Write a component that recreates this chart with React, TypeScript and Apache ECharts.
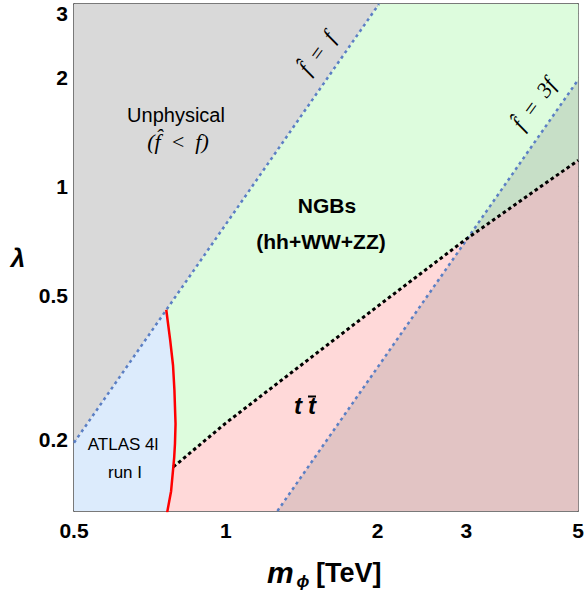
import React, { useEffect, useRef } from "react";
import * as echarts from "echarts";

// axis ranges (m_phi in TeV, lambda)
const X_MIN = 0.5;
const X_MAX = 5;
const Y_MIN = 0.127;
const Y_MAX = 3.18;

// tick values
const xTickLabels = [0.5, 1, 2, 3, 5];
const xMajorTicks = [1];
const xMinorTicks = [0.6, 0.7, 0.8, 0.9, 2, 3, 4];
const yTickLabels = [0.2, 0.5, 1, 2, 3];
const yMajorTicks = [0.2, 0.5, 1, 2];
const yMinorTicks = [0.3, 0.4, 0.6, 0.7, 0.8, 0.9, 3];

// boundary f-hat = f
const lineFhatF: number[][] = [[0.5, 0.196], [2.013, 3.18]];
// boundary f-hat = 3f
const lineFhat3F: number[][] = [[1.266, 0.127], [5, 1.965]];
// t tbar boundary (black dashed)
const ttbarLine: number[][] = [[0.787, 0.168], [1, 0.222], [2, 0.466], [3, 0.715], [5, 1.178]];
// ATLAS 4l run I exclusion curve (red), top to bottom
const atlasCurve: number[][] = [
  [0.762, 0.456], [0.776, 0.375], [0.786, 0.32], [0.791, 0.273], [0.795, 0.221],
  [0.793, 0.195], [0.79, 0.178], [0.779, 0.144], [0.765, 0.1257],
];

const COL_GRAY = "#d9d9d9";
const COL_BLUE = "#dcebfc";
const COL_GREEN = "#ddfcdd";
const COL_PINK = "#ffd9d9";
const COL_OVER = "rgba(118,118,118,0.21)";

const L = (v: number) => Math.log10(v);
const fmt = (v: number) => String(Number(Math.pow(10, v).toPrecision(3)));

export default function App() {
  const ref = useRef<HTMLDivElement>(null);
  useEffect(() => {
    document.body.style.margin = "0";
    if (!ref.current) return;
    const chart = echarts.init(ref.current, undefined, { renderer: "svg" });

    const splitLam = ttbarLine[0][1];
    const atlasUpper = atlasCurve.filter((p) => p[1] > splitLam);
    const atlasLower = atlasCurve.filter((p) => p[1] < splitLam);

    const grayPoly = [[X_MIN, lineFhatF[0][1]], [X_MIN, Y_MAX], [lineFhatF[1][0], Y_MAX]];
    const bluePoly = [[X_MIN, Y_MIN], [X_MIN, lineFhatF[0][1]], ...atlasCurve];
    const greenPoly = [
      atlasCurve[0],
      [lineFhatF[1][0], Y_MAX],
      [X_MAX, Y_MAX],
      ...ttbarLine.slice().reverse(),
      ...atlasUpper.slice().reverse(),
    ];
    const pinkPoly = [
      ...ttbarLine,
      [X_MAX, 0.1257],
      ...atlasLower.slice().reverse(),
    ];
    const overPoly = [lineFhat3F[0], lineFhat3F[1], [X_MAX, 0.1257]];

    const poly = (pts: number[][], color: string) => ({
      type: "custom",
      coordinateSystem: "cartesian2d",
      xAxisIndex: 0,
      yAxisIndex: 0,
      clip: true,
      silent: true,
      data: pts.map((p) => [L(p[0]), L(p[1])]),
      renderItem: (params: any, api: any) => {
        if (params.dataIndex !== 0) return null;
        const points = pts.map((p) => api.coord([L(p[0]), L(p[1])]));
        return { type: "polygon", shape: { points }, style: { fill: color } };
      },
    });

    const line = (pts: number[][], color: string, width: number, type: any) => ({
      type: "line",
      xAxisIndex: 0,
      yAxisIndex: 0,
      showSymbol: false,
      symbol: "none",
      silent: true,
      clip: true,
      data: pts.map((p) => [L(p[0]), L(p[1])]),
      lineStyle: { color, width, type, cap: "butt" },
    });

    const axisLineStyle = { color: "#4d4d4d", width: 1.5 };
    const labelStyle = {
      fontFamily: "Liberation Sans",
      fontWeight: "bold",
      fontSize: 21,
      color: "#000",
    };
    const mkX = (pos: string, ticks: number[], len: number, showLine: boolean, labels: boolean) => ({
      type: "value",
      position: pos,
      min: L(X_MIN),
      max: L(X_MAX),
      splitLine: { show: false },
      axisLine: { show: showLine, onZero: false, lineStyle: axisLineStyle },
      axisTick: {
        show: true,
        inside: true,
        length: len,
        customValues: ticks.map(L),
        lineStyle: { color: "#333", width: 1.3 },
      },
      axisLabel: labels
        ? { show: true, customValues: xTickLabels.map(L), formatter: fmt, margin: 9, ...labelStyle }
        : { show: false },
    });
    const mkY = (pos: string, ticks: number[], len: number, showLine: boolean, labels: boolean) => ({
      type: "value",
      position: pos,
      min: L(Y_MIN),
      max: L(Y_MAX),
      splitLine: { show: false },
      axisLine: { show: showLine, onZero: false, lineStyle: axisLineStyle },
      axisTick: {
        show: true,
        inside: true,
        length: len,
        customValues: ticks.map(L),
        lineStyle: { color: "#333", width: 1.3 },
      },
      axisLabel: labels
        ? { show: true, customValues: yTickLabels.map(L), formatter: fmt, margin: 6, ...labelStyle }
        : { show: false },
    });

    const sans = "Liberation Sans";
    const serif = "Liberation Serif";
    const txt = (
      text: string, x: number, y: number, size: number,
      opts: { weight?: string; style?: string; family?: string; rotation?: number; align?: string } = {}
    ) => ({
      type: "text",
      x,
      y,
      rotation: opts.rotation || 0,
      z: 100,
      silent: true,
      style: {
        text,
        fontSize: size,
        fontWeight: opts.weight || "normal",
        fontStyle: opts.style || "normal",
        fontFamily: opts.family || sans,
        fill: "#000",
        textAlign: opts.align || "center",
        align: opts.align || "center",
        textVerticalAlign: "middle",
        verticalAlign: "middle",
      },
    });

    const rot = (54 * Math.PI) / 180;

    chart.setOption({
      animation: false,
      grid: { left: 74, top: 4, width: 507, height: 507, containLabel: false },
      xAxis: [
        mkX("bottom", xMajorTicks, 9, true, true),
        mkX("bottom", xMinorTicks, 5, false, false),
        mkX("top", xMajorTicks, 9, true, false),
        mkX("top", xMinorTicks, 5, false, false),
      ],
      yAxis: [
        mkY("left", yMajorTicks, 9, true, true),
        mkY("left", yMinorTicks, 5, false, false),
        mkY("right", yMajorTicks, 9, true, false),
        mkY("right", yMinorTicks, 5, false, false),
      ],
      series: [
        poly(grayPoly, COL_GRAY),
        poly(bluePoly, COL_BLUE),
        poly(greenPoly, COL_GREEN),
        poly(pinkPoly, COL_PINK),
        poly(overPoly, COL_OVER),
        line(lineFhatF, "#5b7fc4", 2.5, [3, 3.5]),
        line(lineFhat3F, "#5b7fc4", 2.5, [3, 3.5]),
        line(ttbarLine, "#000", 3, [3.5, 3]),
        line(atlasCurve, "#ff0000", 2.5, "solid"),
      ],
      graphic: [
        txt("Unphysical", 176, 115, 20),
        txt("(f\u0302 \u2009<\u2009 f)", 178, 141, 22, { style: "italic", family: serif }),
        txt("NGBs", 327, 205, 21, { weight: "bold" }),
        txt("(hh+WW+ZZ)", 321, 241, 21, { weight: "bold" }),
        txt("t", 298, 405, 24, { weight: "bold", style: "italic" }),
        txt("t", 312, 405, 24, { weight: "bold", style: "italic" }),
        { type: "rect", z: 100, silent: true, shape: { x: 308, y: 395.5, width: 8, height: 2 }, style: { fill: "#000" } },
        txt("ATLAS 4l", 123, 444, 17),
        txt("run I", 125, 472, 17),
        txt("f\u0302 \u2009=\u2009 f", 317, 53, 22, { style: "italic", family: serif, rotation: rot }),
        txt("f\u0302 \u2009=\u2009 3f", 534, 104, 22, { style: "italic", family: serif, rotation: rot }),
        txt("\u03bb", 18, 258, 26, { weight: "bold", style: "italic" }),
        txt("m", 267, 572, 30, { weight: "bold", style: "italic", align: "left" }),
        txt("\u03d5", 303, 581, 17, { weight: "bold", style: "italic" }),
        txt("[TeV]", 316, 573, 27, { weight: "bold", align: "left" }),
      ],
    });
    return () => chart.dispose();
  }, []);
  return <div ref={ref} style={{ width: 587, height: 592 }} />;
}
